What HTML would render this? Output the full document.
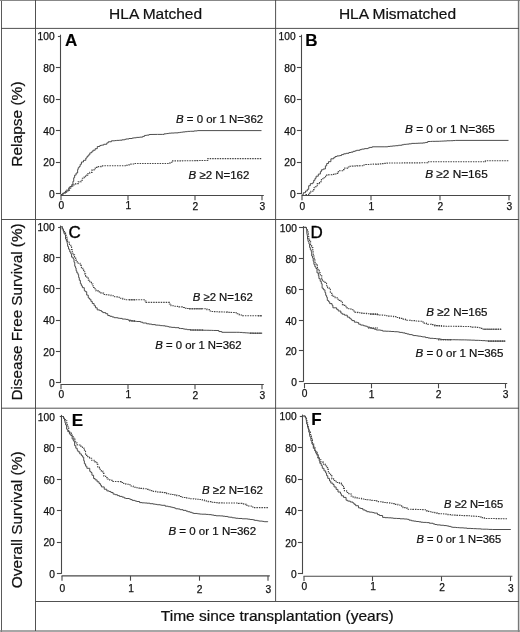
<!DOCTYPE html>
<html><head><meta charset="utf-8"><title>Figure</title>
<style>
html,body{margin:0;padding:0;background:#fff;}
body{width:520px;height:632px;overflow:hidden;}
svg{display:block;font-family:"Liberation Sans",sans-serif;filter:grayscale(1);}
</style></head><body>
<svg width="520" height="632" viewBox="0 0 520 632">
<rect x="0" y="0" width="520" height="632" fill="#fff"/>
<g stroke="#484848" stroke-width="0.95" fill="none">
<line x1="1.5" y1="0" x2="1.5" y2="632" stroke="#5a5a5a" stroke-width="1"/>
<line x1="0" y1="0.5" x2="520" y2="0.5" stroke="#888" stroke-width="1.1"/>
<line x1="518.6" y1="0" x2="518.6" y2="632" stroke="#777" stroke-width="1.5"/>
<line x1="0" y1="631" x2="520" y2="631" stroke="#888" stroke-width="1.6"/>
<line x1="35.5" y1="0" x2="35.5" y2="631"/>
<line x1="275.6" y1="0" x2="275.6" y2="601"/>
<line x1="1" y1="28.4" x2="519" y2="28.4"/>
<line x1="1" y1="219.5" x2="519" y2="219.5"/>
<line x1="1" y1="408.2" x2="519" y2="408.2"/>
<line x1="35.5" y1="601.5" x2="519" y2="601.5"/>
</g>
<g fill="#111" font-size="15.5" stroke="#111" stroke-width="0.22">
<text x="155.6" y="18.9" text-anchor="middle">HLA Matched</text>
<text x="397.5" y="18.9" text-anchor="middle">HLA Mismatched</text>
<text x="277.3" y="621.4" text-anchor="middle">Time since transplantation (years)</text>
<text transform="translate(21.7,124.1) rotate(-90)" text-anchor="middle">Relapse (%)</text>
<text transform="translate(21.7,312) rotate(-90)" text-anchor="middle" font-size="15.25">Disease Free Survival (%)</text>
<text transform="translate(21.7,519.8) rotate(-90)" text-anchor="middle">Overall Survival (%)</text>
</g>
<g stroke="#484848" stroke-width="1.1" fill="none">
<line x1="60.5" y1="34.7" x2="60.5" y2="194.0"/>
<line x1="60.5" y1="195.5" x2="263.8" y2="195.5"/>
<line x1="55.9" y1="193.50" x2="60.5" y2="193.50"/>
<line x1="55.9" y1="162.50" x2="60.5" y2="162.50"/>
<line x1="55.9" y1="130.50" x2="60.5" y2="130.50"/>
<line x1="55.9" y1="99.50" x2="60.5" y2="99.50"/>
<line x1="55.9" y1="67.50" x2="60.5" y2="67.50"/>
<line x1="57.9" y1="36.50" x2="60.5" y2="36.50"/>
<line x1="61.00" y1="195.5" x2="61.00" y2="200.3"/>
<line x1="128.00" y1="195.5" x2="128.00" y2="200.3"/>
<line x1="195.00" y1="195.5" x2="195.00" y2="200.3"/>
<line x1="262.00" y1="195.5" x2="262.00" y2="200.3"/>
</g>
<g fill="#111" font-size="10.2" stroke="#111" stroke-width="0.25">
<text x="54.6" y="197.70" text-anchor="end">0</text>
<text x="54.6" y="166.24" text-anchor="end">20</text>
<text x="54.6" y="134.78" text-anchor="end">40</text>
<text x="54.6" y="103.32" text-anchor="end">60</text>
<text x="54.6" y="71.86" text-anchor="end">80</text>
<text x="54.6" y="40.40" text-anchor="end">100</text>
<text x="61.30" y="209.00" text-anchor="middle">0</text>
<text x="128.30" y="209.47" text-anchor="middle">1</text>
<text x="195.30" y="209.93" text-anchor="middle">2</text>
<text x="262.30" y="210.40" text-anchor="middle">3</text>
</g>
<text x="65" y="45.8" font-size="17" font-weight="bold" fill="#000" stroke="#000" stroke-width="0.15">A</text>
<g stroke="#484848" stroke-width="1.1" fill="none">
<line x1="301.5" y1="34.7" x2="301.5" y2="194.3"/>
<line x1="301.5" y1="195.5" x2="510.8" y2="195.5"/>
<line x1="296.9" y1="193.50" x2="301.5" y2="193.50"/>
<line x1="296.9" y1="162.50" x2="301.5" y2="162.50"/>
<line x1="296.9" y1="130.50" x2="301.5" y2="130.50"/>
<line x1="296.9" y1="99.50" x2="301.5" y2="99.50"/>
<line x1="296.9" y1="67.50" x2="301.5" y2="67.50"/>
<line x1="299.1" y1="36.50" x2="301.5" y2="36.50"/>
<line x1="302.00" y1="195.5" x2="302.00" y2="200.3"/>
<line x1="371.00" y1="195.5" x2="371.00" y2="200.3"/>
<line x1="440.00" y1="195.5" x2="440.00" y2="200.3"/>
<line x1="509.00" y1="195.5" x2="509.00" y2="200.3"/>
</g>
<g fill="#111" font-size="10.2" stroke="#111" stroke-width="0.25">
<text x="295.6" y="198.00" text-anchor="end">0</text>
<text x="295.6" y="166.48" text-anchor="end">20</text>
<text x="295.6" y="134.96" text-anchor="end">40</text>
<text x="295.6" y="103.44" text-anchor="end">60</text>
<text x="295.6" y="71.92" text-anchor="end">80</text>
<text x="295.6" y="40.40" text-anchor="end">100</text>
<text x="302.30" y="209.50" text-anchor="middle">0</text>
<text x="371.30" y="209.80" text-anchor="middle">1</text>
<text x="440.30" y="210.10" text-anchor="middle">2</text>
<text x="509.30" y="210.40" text-anchor="middle">3</text>
</g>
<text x="305.2" y="45.8" font-size="17" font-weight="bold" fill="#000" stroke="#000" stroke-width="0.15">B</text>
<g stroke="#484848" stroke-width="1.1" fill="none">
<line x1="60.5" y1="225.6" x2="60.5" y2="383.1"/>
<line x1="60.5" y1="384.5" x2="263.8" y2="384.5"/>
<line x1="55.9" y1="382.50" x2="60.5" y2="382.50"/>
<line x1="55.9" y1="351.50" x2="60.5" y2="351.50"/>
<line x1="55.9" y1="320.50" x2="60.5" y2="320.50"/>
<line x1="55.9" y1="288.50" x2="60.5" y2="288.50"/>
<line x1="55.9" y1="257.50" x2="60.5" y2="257.50"/>
<line x1="58.1" y1="227.50" x2="60.5" y2="227.50"/>
<line x1="61.00" y1="384.5" x2="61.00" y2="389.3"/>
<line x1="128.00" y1="384.5" x2="128.00" y2="389.3"/>
<line x1="195.00" y1="384.5" x2="195.00" y2="389.3"/>
<line x1="262.00" y1="384.5" x2="262.00" y2="389.3"/>
</g>
<g fill="#111" font-size="10.2" stroke="#111" stroke-width="0.25">
<text x="54.6" y="386.80" text-anchor="end">0</text>
<text x="54.6" y="355.50" text-anchor="end">20</text>
<text x="54.6" y="324.20" text-anchor="end">40</text>
<text x="54.6" y="292.70" text-anchor="end">60</text>
<text x="54.6" y="261.70" text-anchor="end">80</text>
<text x="54.6" y="231.30" text-anchor="end">100</text>
<text x="61.30" y="397.80" text-anchor="middle">0</text>
<text x="128.30" y="398.27" text-anchor="middle">1</text>
<text x="195.30" y="398.73" text-anchor="middle">2</text>
<text x="262.30" y="399.20" text-anchor="middle">3</text>
</g>
<text x="68.5" y="237.8" font-size="17" font-weight="normal" fill="#000" stroke="#000" stroke-width="0.35">C</text>
<g stroke="#484848" stroke-width="1.1" fill="none">
<line x1="303.5" y1="226.1" x2="303.5" y2="381.7"/>
<line x1="303.9" y1="383.5" x2="507.2" y2="383.5"/>
<line x1="298.9" y1="381.50" x2="303.5" y2="381.50"/>
<line x1="298.9" y1="350.50" x2="303.5" y2="350.50"/>
<line x1="298.9" y1="320.50" x2="303.5" y2="320.50"/>
<line x1="298.9" y1="289.50" x2="303.5" y2="289.50"/>
<line x1="298.9" y1="258.50" x2="303.5" y2="258.50"/>
<line x1="299.0" y1="227.50" x2="303.5" y2="227.50"/>
<line x1="304.50" y1="383.5" x2="304.50" y2="388.3"/>
<line x1="371.50" y1="383.5" x2="371.50" y2="388.3"/>
<line x1="438.50" y1="383.5" x2="438.50" y2="388.3"/>
<line x1="505.50" y1="383.5" x2="505.50" y2="388.3"/>
</g>
<g fill="#111" font-size="10.2" stroke="#111" stroke-width="0.25">
<text x="296.8" y="385.60" text-anchor="end">0</text>
<text x="296.8" y="354.90" text-anchor="end">20</text>
<text x="296.8" y="324.50" text-anchor="end">40</text>
<text x="296.8" y="293.60" text-anchor="end">60</text>
<text x="296.8" y="262.90" text-anchor="end">80</text>
<text x="296.8" y="232.00" text-anchor="end">100</text>
<text x="304.70" y="397.40" text-anchor="middle">0</text>
<text x="371.70" y="397.53" text-anchor="middle">1</text>
<text x="438.70" y="397.67" text-anchor="middle">2</text>
<text x="505.70" y="397.80" text-anchor="middle">3</text>
</g>
<text x="310.5" y="237.6" font-size="17" font-weight="normal" fill="#000" stroke="#000" stroke-width="0.35">D</text>
<g stroke="#484848" stroke-width="1.1" fill="none">
<line x1="61.5" y1="414.9" x2="61.5" y2="573.8"/>
<line x1="61.5" y1="575.9" x2="269.8" y2="575.9"/>
<line x1="56.9" y1="573.50" x2="61.5" y2="573.50"/>
<line x1="56.9" y1="542.50" x2="61.5" y2="542.50"/>
<line x1="56.9" y1="510.50" x2="61.5" y2="510.50"/>
<line x1="56.9" y1="479.50" x2="61.5" y2="479.50"/>
<line x1="56.9" y1="447.50" x2="61.5" y2="447.50"/>
<line x1="59.7" y1="416.50" x2="61.5" y2="416.50"/>
<line x1="62.00" y1="575.9" x2="62.00" y2="580.6999999999999"/>
<line x1="130.50" y1="575.9" x2="130.50" y2="580.6999999999999"/>
<line x1="199.50" y1="575.9" x2="199.50" y2="580.6999999999999"/>
<line x1="268.00" y1="575.9" x2="268.00" y2="580.6999999999999"/>
</g>
<g fill="#111" font-size="10.2" stroke="#111" stroke-width="0.25">
<text x="54.8" y="577.60" text-anchor="end">0</text>
<text x="54.8" y="546.30" text-anchor="end">20</text>
<text x="54.8" y="515.00" text-anchor="end">40</text>
<text x="54.8" y="483.80" text-anchor="end">60</text>
<text x="54.8" y="451.90" text-anchor="end">80</text>
<text x="54.8" y="420.60" text-anchor="end">100</text>
<text x="62.30" y="592.00" text-anchor="middle">0</text>
<text x="130.97" y="592.33" text-anchor="middle">1</text>
<text x="199.63" y="592.67" text-anchor="middle">2</text>
<text x="268.30" y="593.00" text-anchor="middle">3</text>
</g>
<text x="71.8" y="425.7" font-size="17" font-weight="bold" fill="#000" stroke="#000" stroke-width="0.15">E</text>
<g stroke="#484848" stroke-width="1.1" fill="none">
<line x1="302.5" y1="414.6" x2="302.5" y2="574.1"/>
<line x1="303.5" y1="576.3" x2="512.4" y2="576.3"/>
<line x1="297.9" y1="573.50" x2="302.5" y2="573.50"/>
<line x1="297.9" y1="542.50" x2="302.5" y2="542.50"/>
<line x1="297.9" y1="510.50" x2="302.5" y2="510.50"/>
<line x1="297.9" y1="479.50" x2="302.5" y2="479.50"/>
<line x1="297.9" y1="447.50" x2="302.5" y2="447.50"/>
<line x1="299.8" y1="416.50" x2="302.5" y2="416.50"/>
<line x1="304.00" y1="576.3" x2="304.00" y2="581.0999999999999"/>
<line x1="372.50" y1="576.3" x2="372.50" y2="581.0999999999999"/>
<line x1="441.50" y1="576.3" x2="441.50" y2="581.0999999999999"/>
<line x1="510.50" y1="576.3" x2="510.50" y2="581.0999999999999"/>
</g>
<g fill="#111" font-size="10.2" stroke="#111" stroke-width="0.25">
<text x="296.6" y="577.90" text-anchor="end">0</text>
<text x="296.6" y="546.60" text-anchor="end">20</text>
<text x="296.6" y="514.70" text-anchor="end">40</text>
<text x="296.6" y="483.20" text-anchor="end">60</text>
<text x="296.6" y="451.60" text-anchor="end">80</text>
<text x="296.6" y="420.30" text-anchor="end">100</text>
<text x="304.30" y="589.70" text-anchor="middle">0</text>
<text x="373.17" y="590.47" text-anchor="middle">1</text>
<text x="442.03" y="591.23" text-anchor="middle">2</text>
<text x="510.90" y="592.00" text-anchor="middle">3</text>
</g>
<text x="311.3" y="425.4" font-size="17" font-weight="bold" fill="#000" stroke="#000" stroke-width="0.15">F</text>
<polyline points="60.7,194.6 62.82,194.6 62.82,193.04 64.5,193.04 64.5,192.4 66.79,192.4 66.79,190.94 68.7,190.94 68.7,187.8 69.81,187.8 69.81,186.64 71.73,186.64 71.73,184.57 72.9,184.57 72.9,181.4 73.71,181.4 73.71,177.72 74.64,177.72 74.64,175.1 76.1,175.1 76.1,173.0 77.63,173 77.63,169.52 78.2,169.52 78.2,167.7 79.21,167.7 79.21,166.48 80.18,166.48 80.18,164.3 81.44,164.3 81.44,161.98 83.5,161.98 83.5,160.3 85.8,160.3 85.8,158.05 87.03,158.05 87.03,156.37 88.25,156.37 88.25,154.94 89.8,154.94 89.8,152.9 91.48,152.9 91.48,151.86 92.9,151.86 92.9,150.22 95.18,150.22 95.18,148.68 97.3,148.68 97.3,146.5 99.86,146.5 99.86,145.46 101.5,145.46 101.5,145.1 103.74,145.1 103.74,144.28 106.8,144.28 106.8,142.9 108.25,142.9 108.25,141.75 111.4,141.75 111.4,140.8 114.69,140.8 114.69,140.59 116.64,140.59 116.64,140.38 119.5,140.38 119.5,140.2 122.05,140.2 122.05,139.8 124.8,139.8 124.8,139.3 126.14,139.3 126.14,138.96 129.0,138.96 129.0,138.5 132.27,138.5 132.27,137.99 134.21,137.99 134.21,137.81 136.4,137.81 136.4,137.4 139.67,137.4 139.67,137.14 142.7,137.14 142.7,136.4 144.48,136.4 144.48,135.45 146.59,135.45 146.59,135.12 149.1,135.12 149.1,134.5 157.5,134.4 162.3,134.4 164.09,134.4 164.09,133.84 166.45,133.84 166.45,133.55 168.7,133.55 168.7,133.2 170.87,133.2 170.87,133.04 174.37,133.04 174.37,132.87 178.05,132.87 178.05,132.64 179.69,132.64 179.69,132.37 181.4,132.37 181.4,132.2 182.74,132.2 182.74,131.95 185.17,131.95 185.17,131.68 187.47,131.68 187.47,131.39 190.3,131.39 190.3,131.28 194.15,131.28 194.15,130.92 197.3,130.92 197.3,130.6 261.5,130.6" fill="none" stroke="#444" stroke-width="0.95" stroke-linejoin="miter"/>
<polyline points="60.7,194.6 63.17,194.6 63.17,193.01 65.5,193.01 65.5,191.4 66.89,191.4 66.89,190.09 69.5,190.09 69.5,188.32 70.8,188.32 70.8,186.7 72.73,186.7 72.73,185.68 74.0,185.68 74.0,184.2 75.72,184.2 75.72,183.67 78.2,183.67 78.2,181.9 80.85,181.9 80.85,180.24 82.4,180.24 82.4,178.3 84.26,178.3 84.26,176.79 85.6,176.79 85.6,175.1 87.68,175.1 87.68,173.78 89.8,173.78 89.8,172.4 92.05,172.4 92.05,169.87 94.1,169.87 94.1,168.8 95.21,168.8 95.21,167.39 98.3,167.39 98.3,166.6 101.09,166.6 101.09,166.28 102.5,166.28 102.5,165.8 123.7,165.8 126.52,165.8 126.52,165.2 129.0,165.2 129.0,164.5 130.82,164.5 130.82,164.06 134.3,164.06 134.3,163.5 167.6,163.5 169.9,163.5 169.9,162.29 171.9,162.29 171.9,160.9 175.4,160.9 175.4,160.87 178.78,160.87 178.78,160.83 182.19,160.83 182.19,160.78 185.4,160.78 185.4,160.74 187.28,160.74 187.28,160.72 189.91,160.72 189.91,160.7 192.13,160.7 192.13,160.68 193.5,160.68 193.5,160.66 194.86,160.66 194.86,160.64 196.88,160.64 196.88,160.61 198.84,160.61 198.84,160.57 201.93,160.57 201.93,160.53 205.7,160.53 205.7,160.5 207.8,160.5 207.8,158.6 261.5,158.6" fill="none" stroke="#444" stroke-width="1.1" stroke-dasharray="1.5 1.0" stroke-linejoin="miter"/>
<polyline points="302.3,194.6 303.37,194.6 303.37,192.7 305.5,192.7 305.5,191.0 307.3,191 307.3,189.34 308.7,189.34 308.7,185.7 310.34,185.7 310.34,183.65 312.9,183.65 312.9,182.5 313.71,182.5 313.71,180.31 315.0,180.31 315.0,178.31 316.1,178.31 316.1,176.2 318.32,176.2 318.32,174.06 320.38,174.06 320.38,171.63 321.4,171.63 321.4,169.8 323.18,169.8 323.18,168.97 325.38,168.97 325.38,165.85 326.7,165.85 326.7,163.5 328.45,163.5 328.45,161.67 330.9,161.67 330.9,158.8 333.63,158.8 333.63,157.69 335.1,157.69 335.1,156.5 336.93,156.5 336.93,155.92 339.62,155.92 339.62,155.56 341.5,155.56 341.5,154.6 343.68,154.6 343.68,153.8 346.13,153.8 346.13,153.31 348.9,153.31 348.9,152.5 350.96,152.5 350.96,152.14 353.09,152.14 353.09,151.33 355.2,151.33 355.2,150.8 356.5,150.8 356.5,150.3 359.86,150.3 359.86,149.65 361.6,149.65 361.6,149.1 364.42,149.1 364.42,148.61 367.9,148.61 367.9,148.0 369.46,148 369.46,147.41 372.2,147.41 372.2,146.8 384.9,146.8 387.8,146.8 387.8,146.44 390.1,146.44 390.1,146.22 392.52,146.22 392.52,145.94 395.4,145.94 395.4,145.7 398.34,145.7 398.34,145.27 401.8,145.27 401.8,144.8 403.7,144.8 403.7,144.36 406.5,144.36 406.5,144.15 408.83,144.15 408.83,143.84 411.5,143.84 411.5,143.4 415.85,143.4 415.85,143.32 417.92,143.32 417.92,143.19 419.94,143.19 419.94,143.11 423.0,143.11 423.0,142.9 425.25,142.9 425.25,142.46 427.7,142.46 427.7,141.5 430.68,141.5 430.68,141.4 432.33,141.4 432.33,141.35 435.88,141.35 435.88,141.29 439.65,141.29 439.65,141.19 441.5,141.19 441.5,141.1 443.72,141.1 443.72,140.98 446.84,140.98 446.84,140.78 450.25,140.78 450.25,140.71 453.07,140.71 453.07,140.55 455.4,140.55 455.4,140.4 508.5,140.4" fill="none" stroke="#444" stroke-width="0.95" stroke-linejoin="miter"/>
<polyline points="305.5,194.6 308.7,194.6 308.7,193.1 310.91,193.1 310.91,191.23 312.89,191.23 312.89,189.65 314.0,189.65 314.0,187.8 315.41,187.8 315.41,186.75 317.2,186.75 317.2,183.6 319.51,183.6 319.51,181.75 321.4,181.75 321.4,178.7 324.07,178.7 324.07,177.7 325.6,177.7 325.6,175.1 328.58,175.1 328.58,174.78 331.91,174.78 331.91,174.53 333.55,174.53 333.55,174.4 335.1,174.4 335.1,174.0 336.59,174 336.59,173.35 338.3,173.35 338.3,171.5 339.56,171.5 339.56,170.69 342.58,170.69 342.58,169.62 344.7,169.62 344.7,168.1 347.56,168.1 347.56,166.96 349.9,166.96 349.9,166.2 352.22,166.2 352.22,166.11 354.74,166.11 354.74,166.03 356.83,166.03 356.83,165.88 359.5,165.88 359.5,165.8 363.25,165.8 363.25,164.94 365.8,164.94 365.8,164.5 368.04,164.5 368.04,164.43 369.58,164.43 369.58,164.32 373.26,164.32 373.26,164.16 376.4,164.16 376.4,164.1 379.45,164.1 379.45,163.9 381.61,163.9 381.61,163.66 383.91,163.66 383.91,163.37 387.0,163.37 387.0,163.0 425.4,162.8 427.7,162.8 427.7,161.8 481.9,161.8 485.4,161.8 485.4,160.7 508.5,160.7" fill="none" stroke="#444" stroke-width="1.1" stroke-dasharray="1.5 1.0" stroke-linejoin="miter"/>
<polyline points="61.3,226.8 62.38,226.8 62.38,228.99 63.4,228.99 63.4,231.6 63.87,231.6 63.87,233.36 64.88,233.36 64.88,234.84 65.5,234.84 65.5,239.0 66.37,239 66.37,241.14 67.11,241.14 67.11,243.46 67.6,243.46 67.6,246.4 68.49,246.4 68.49,249.15 69.77,249.15 69.77,251.93 70.8,251.93 70.8,253.8 71.59,253.8 71.59,257.17 73.14,257.17 73.14,258.81 74.0,258.81 74.0,262.3 74.76,262.3 74.76,266.32 75.55,266.32 75.55,267.94 76.1,267.94 76.1,270.8 76.84,270.8 76.84,272.83 77.97,272.83 77.97,274.63 78.65,274.63 78.65,277.56 79.3,277.56 79.3,280.3 80.37,280.3 80.37,283.76 81.36,283.76 81.36,285.82 82.4,285.82 82.4,287.7 84.3,287.7 84.3,290.57 85.13,290.57 85.13,291.67 86.7,291.67 86.7,295.1 88.26,295.1 88.26,298.02 89.52,298.02 89.52,299.22 90.9,299.22 90.9,301.4 92.27,301.4 92.27,303.53 94.1,303.53 94.1,305.7 95.46,305.7 95.46,307.79 97.2,307.79 97.2,309.9 99.69,309.9 99.69,310.58 101.5,310.58 101.5,311.6 102.81,311.6 102.81,312.61 105.7,312.61 105.7,313.7 107.75,313.7 107.75,315.54 109.9,315.54 109.9,316.3 112.09,316.3 112.09,316.99 114.2,316.99 114.2,317.7 117.76,317.7 117.76,318.15 119.5,318.15 119.5,318.4 122.2,318.4 122.2,319.06 125.8,319.06 125.8,319.4 128.22,319.4 128.22,320.2 131.1,320.2 131.1,320.9 133.5,320.9 133.5,321.22 136.4,321.22 136.4,321.5 140.59,321.5 140.59,322.18 142.7,322.18 142.7,323.0 146.59,323 146.59,323.79 149.1,323.79 149.1,324.1 151.76,324.1 151.76,324.6 155.4,324.6 155.4,325.1 158.29,325.1 158.29,325.24 160.24,325.24 160.24,325.63 162.75,325.63 162.75,325.79 165.12,325.79 165.12,326.2 167.5,326.2 167.5,326.6 168.9,326.6 168.9,327.04 171.48,327.04 171.48,327.38 175.04,327.38 175.04,327.68 179.0,327.68 179.0,328.4 180.68,328.4 180.68,328.56 183.23,328.56 183.23,328.95 184.75,328.95 184.75,329.23 187.17,329.23 187.17,329.65 190.6,329.65 190.6,330.0 192.82,330 192.82,330.04 197.06,330.04 197.06,330.1 200.05,330.1 200.05,330.12 201.64,330.12 201.64,330.18 203.17,330.18 203.17,330.24 206.18,330.24 206.18,330.27 209.06,330.27 209.06,330.34 211.5,330.34 211.5,330.4 213.44,330.4 213.44,330.47 216.0,330.47 216.0,330.5 218.87,330.5 218.87,331.56 221.8,331.56 221.8,332.3 236.8,332.3 239.54,332.3 239.54,332.43 242.5,332.43 242.5,332.68 244.98,332.68 244.98,332.8 246.72,332.8 246.72,332.92 248.64,332.92 248.64,333.09 252.9,333.09 252.9,333.2 262.2,333.2" fill="none" stroke="#444" stroke-width="0.95" stroke-linejoin="miter"/>
<polyline points="61.3,226.8 62.05,226.8 62.05,228.81 63.31,228.81 63.31,230.51 64.5,230.51 64.5,232.7 65.55,232.7 65.55,235.29 66.31,235.29 66.31,237.19 67.2,237.19 67.2,239.83 67.6,239.83 67.6,242.2 69.48,242.2 69.48,245.28 70.8,245.28 70.8,246.4 71.58,246.4 71.58,249.46 72.26,249.46 72.26,253.2 72.9,253.2 72.9,254.9 74.55,254.9 74.55,258.02 75.69,258.02 75.69,260.17 77.2,260.17 77.2,262.3 78.16,262.3 78.16,263.24 80.05,263.24 80.05,265.34 81.4,265.34 81.4,267.6 82.79,267.6 82.79,270.14 83.72,270.14 83.72,271.73 84.74,271.73 84.74,273.88 85.6,273.88 85.6,276.1 86.81,276.1 86.81,278.1 88.38,278.1 88.38,280.1 89.8,280.1 89.8,282.4 91.46,282.4 91.46,284.05 93.04,284.05 93.04,287.56 94.1,287.56 94.1,288.8 96.08,288.8 96.08,290.92 98.3,290.92 98.3,291.9 100.99,291.9 100.99,293.16 103.6,293.16 103.6,294.5 106.18,294.5 106.18,294.74 108.57,294.74 108.57,294.99 111.0,294.99 111.0,295.7 114.71,295.7 114.71,296.8 117.3,296.8 117.3,297.2 119.38,297.2 119.38,298.2 122.71,298.2 122.71,299.31 125.8,299.31 125.8,299.8 142.7,299.8 144.24,299.8 144.24,300.99 145.9,300.99 145.9,302.4 167.5,302.4 169.39,302.4 169.39,304.0 171.0,304.0 171.0,305.8 174.01,305.8 174.01,306.22 177.31,306.22 177.31,306.43 179.0,306.43 179.0,306.9 182.2,306.9 182.2,307.55 184.45,307.55 184.45,308.23 186.2,308.23 186.2,308.53 188.3,308.53 188.3,308.8 204.5,308.8 206.86,308.8 206.86,309.62 209.35,309.62 209.35,310.99 211.4,310.99 211.4,311.5 213.32,311.5 213.32,311.67 215.61,311.67 215.61,311.77 219.1,311.77 219.1,311.83 221.83,311.83 221.83,311.96 225.14,311.96 225.14,312.12 227.47,312.12 227.47,312.24 229.22,312.24 229.22,312.34 231.01,312.34 231.01,312.5 234.5,312.5 234.5,312.7 237.27,312.7 237.27,313.68 239.31,313.68 239.31,315.01 242.5,315.01 242.5,315.7 262.2,315.7" fill="none" stroke="#444" stroke-width="1.1" stroke-dasharray="1.5 1.0" stroke-linejoin="miter"/>
<line x1="129" y1="299.8" x2="136" y2="299.8" stroke="#444" stroke-width="1.6" stroke-dasharray="1.5 0.8" opacity="0.8"/>
<line x1="189" y1="308.8" x2="203" y2="308.8" stroke="#444" stroke-width="1.6" stroke-dasharray="1.5 0.8" opacity="0.8"/>
<line x1="258" y1="315.7" x2="262" y2="315.7" stroke="#444" stroke-width="1.6" stroke-dasharray="1.5 0.8" opacity="0.8"/>
<line x1="129" y1="320.9" x2="135" y2="320.9" stroke="#444" stroke-width="1.6" stroke-dasharray="1.5 0.8" opacity="0.8"/>
<line x1="190" y1="330" x2="204" y2="330" stroke="#444" stroke-width="1.6" stroke-dasharray="1.5 0.8" opacity="0.8"/>
<line x1="250" y1="333.2" x2="262" y2="333.2" stroke="#444" stroke-width="1.6" stroke-dasharray="1.5 0.8" opacity="0.8"/>
<polyline points="304.3,227.4 306.5,227.4 306.5,229.5 306.75,229.5 306.75,232.76 306.93,232.76 306.93,234.35 307.3,234.35 307.3,235.91 307.5,235.91 307.5,239.0 308.01,239 308.01,241.42 308.96,241.42 308.96,244.01 309.6,244.01 309.6,247.5 310.35,247.5 310.35,249.89 311.28,249.89 311.28,251.69 311.7,251.69 311.7,256.0 312.51,256 312.51,257.92 313.2,257.92 313.2,261.18 313.9,261.18 313.9,264.4 314.82,264.4 314.82,266.7 315.93,266.7 315.93,268.5 317.0,268.5 317.0,272.9 318.36,272.9 318.36,275.77 318.93,275.77 318.93,278.62 320.2,278.62 320.2,281.3 321.3,281.3 321.3,283.69 322.12,283.69 322.12,288.2 323.4,288.2 323.4,289.8 324.95,289.8 324.95,292.58 325.69,292.58 325.69,295.36 326.6,295.36 326.6,297.2 327.31,297.2 327.31,300.44 328.57,300.44 328.57,301.8 329.7,301.8 329.7,303.6 332.02,303.6 332.02,305.25 332.9,305.25 332.9,307.8 336.61,307.8 336.61,309.34 338.2,309.34 338.2,311.0 340.81,311 340.81,313.06 342.21,313.06 342.21,314.19 344.5,314.19 344.5,315.2 347.3,315.2 347.3,317.11 349.44,317.11 349.44,318.29 350.9,318.29 350.9,319.4 351.9,319.4 351.9,320.59 354.39,320.59 354.39,322.16 357.2,322.16 357.2,322.6 358.68,322.6 358.68,324.19 360.66,324.19 360.66,325.08 363.6,325.08 363.6,325.8 365.35,325.8 365.35,326.2 367.22,326.2 367.22,327.07 369.9,327.07 369.9,327.9 372.19,327.9 372.19,328.59 374.39,328.59 374.39,329.27 376.3,329.27 376.3,330.0 380.64,330 380.64,330.36 382.6,330.36 382.6,331.1 386.04,331.1 386.04,331.22 388.64,331.22 388.64,331.32 391.1,331.32 391.1,331.5 394.3,331.5 394.3,331.72 397.73,331.72 397.73,331.95 399.5,331.95 399.5,332.4 402.58,332.4 402.58,332.9 404.99,332.9 404.99,333.42 406.86,333.42 406.86,333.99 409.2,333.99 409.2,334.6 411.91,334.6 411.91,334.99 413.35,334.99 413.35,335.57 416.47,335.57 416.47,335.87 418.32,335.87 418.32,336.18 420.8,336.18 420.8,336.5 422.32,336.5 422.32,336.88 425.56,336.88 425.56,337.57 428.07,337.57 428.07,338.01 430.0,338.01 430.0,338.3 433.3,338.3 433.3,338.52 436.22,338.52 436.22,338.84 439.98,338.84 439.98,339.16 441.5,339.16 441.5,339.5 442.91,339.5 442.91,339.54 444.98,339.54 444.98,339.57 446.59,339.57 446.59,339.64 448.38,339.64 448.38,339.71 452.22,339.71 452.22,339.73 455.04,339.73 455.04,339.78 458.77,339.78 458.77,339.83 461.04,339.83 461.04,339.86 464.6,339.86 464.6,339.9 466.65,339.9 466.65,339.99 468.9,339.99 468.9,340.04 471.31,340.04 471.31,340.15 474.82,340.15 474.82,340.32 478.5,340.32 478.5,340.4 480.44,340.4 480.44,340.51 482.11,340.51 482.11,340.64 485.2,340.64 485.2,340.85 487.7,340.85 487.7,341.1 505.5,341.1" fill="none" stroke="#444" stroke-width="0.95" stroke-linejoin="miter"/>
<polyline points="304.3,227.4 306.41,227.4 306.41,228.77 307.5,228.77 307.5,231.6 307.98,231.6 307.98,233.68 308.4,233.68 308.4,236.57 308.83,236.57 308.83,238.79 309.6,238.79 309.6,241.2 310.59,241.2 310.59,244.71 311.67,244.71 311.67,246.49 312.3,246.49 312.3,247.61 312.8,247.61 312.8,251.7 313.23,251.7 313.23,255.04 313.84,255.04 313.84,257.12 314.26,257.12 314.26,258.58 314.9,258.58 314.9,262.3 316.05,262.3 316.05,265.13 317.47,265.13 317.47,268.5 318.07,268.5 318.07,270.42 319.2,270.42 319.2,272.9 320.26,272.9 320.26,275.69 321.74,275.69 321.74,278.87 322.37,278.87 322.37,280.17 323.4,280.17 323.4,281.3 324.95,281.3 324.95,282.35 326.54,282.35 326.54,285.75 327.6,285.75 327.6,287.7 329.13,287.7 329.13,289.38 330.35,289.38 330.35,293.2 331.8,293.2 331.8,295.1 333.14,295.1 333.14,296.3 335.13,296.3 335.13,297.59 337.1,297.59 337.1,299.3 339.24,299.3 339.24,300.37 341.09,300.37 341.09,302.33 342.4,302.33 342.4,304.6 343.61,304.6 343.61,305.38 345.99,305.38 345.99,307.85 348.8,307.85 348.8,308.8 350.91,308.8 350.91,309.8 352.93,309.8 352.93,310.97 355.1,310.97 355.1,312.4 357.94,312.4 357.94,312.75 361.5,312.75 361.5,313.1 363.13,313.1 363.13,313.41 366.62,313.41 366.62,313.73 369.71,313.73 369.71,313.95 372.0,313.95 372.0,314.1 375.29,314.1 375.29,314.29 377.34,314.29 377.34,314.65 379.46,314.65 379.46,315.03 382.6,315.03 382.6,315.2 385.87,315.2 385.87,315.72 387.55,315.72 387.55,316.12 391.1,316.12 391.1,316.3 393.63,316.3 393.63,316.63 395.84,316.63 395.84,317.47 399.5,317.47 399.5,318.4 402.31,318.4 402.31,319.13 405.32,319.13 405.32,319.59 406.9,319.59 406.9,320.3 410.32,320.3 410.32,320.43 411.93,320.43 411.93,320.67 415.04,320.67 415.04,321.03 418.5,321.03 418.5,321.2 421.61,321.2 421.61,321.98 423.34,321.98 423.34,323.14 426.27,323.14 426.27,323.65 427.7,323.65 427.7,324.2 431.45,324.2 431.45,324.67 434.5,324.67 434.5,325.05 436.5,325.05 436.5,325.5 439.04,325.5 439.04,325.69 441.5,325.69 441.5,326.1 442.97,326.1 442.97,326.14 445.43,326.14 445.43,326.18 448.15,326.18 448.15,326.23 450.2,326.23 450.2,326.26 453.48,326.26 453.48,326.32 456.0,326.32 456.0,326.36 458.58,326.36 458.58,326.39 461.89,326.39 461.89,326.44 463.33,326.44 463.33,326.48 466.9,326.48 466.9,326.5 470.63,326.5 470.63,326.78 472.28,326.78 472.28,327.15 476.24,327.15 476.24,327.42 478.5,327.42 478.5,327.7 481.34,327.7 481.34,328.39 483.1,328.39 483.1,329.3 501.5,329.3" fill="none" stroke="#444" stroke-width="1.1" stroke-dasharray="1.5 1.0" stroke-linejoin="miter"/>
<line x1="370" y1="314.1" x2="378" y2="314.1" stroke="#444" stroke-width="1.6" stroke-dasharray="1.5 0.8" opacity="0.8"/>
<line x1="434" y1="325.8" x2="442" y2="325.8" stroke="#444" stroke-width="1.6" stroke-dasharray="1.5 0.8" opacity="0.8"/>
<line x1="484" y1="329.3" x2="501" y2="329.3" stroke="#444" stroke-width="1.6" stroke-dasharray="1.5 0.8" opacity="0.8"/>
<line x1="368" y1="328" x2="378" y2="328" stroke="#444" stroke-width="1.6" stroke-dasharray="1.5 0.8" opacity="0.8"/>
<line x1="438" y1="339.7" x2="452" y2="339.7" stroke="#444" stroke-width="1.6" stroke-dasharray="1.5 0.8" opacity="0.8"/>
<line x1="488" y1="341.1" x2="505" y2="341.1" stroke="#444" stroke-width="1.6" stroke-dasharray="1.5 0.8" opacity="0.8"/>
<polyline points="62.3,416.5 63.5,416.5 63.5,418.21 64.5,418.21 64.5,420.7 65.03,420.7 65.03,422.89 65.64,422.89 65.64,424.96 66.6,424.96 66.6,429.2 67.76,429.2 67.76,431.63 69.41,431.63 69.41,434.08 70.8,434.08 70.8,435.5 72.12,435.5 72.12,438.93 73.26,438.93 73.26,440.49 74.0,440.49 74.0,441.8 74.61,441.8 74.61,445.67 75.79,445.67 75.79,448.23 77.2,448.23 77.2,450.3 77.99,450.3 77.99,451.79 79.76,451.79 79.76,453.91 81.4,453.91 81.4,455.6 82.65,455.6 82.65,457.17 83.73,457.17 83.73,460.76 84.38,460.76 84.38,463.83 85.6,463.83 85.6,466.2 86.86,466.2 86.86,468.31 89.74,468.31 89.74,471.36 90.9,471.36 90.9,472.5 91.94,472.5 91.94,475.24 93.6,475.24 93.6,478.47 95.1,478.47 95.1,479.9 97.09,479.9 97.09,481.81 99.05,481.81 99.05,483.56 100.4,483.56 100.4,485.2 101.45,485.2 101.45,486.91 104.23,486.91 104.23,489.22 106.8,489.22 106.8,490.9 109.02,490.9 109.02,491.46 110.86,491.46 110.86,492.47 113.1,492.47 113.1,494.1 115.14,494.1 115.14,494.71 117.43,494.71 117.43,495.62 119.5,495.62 119.5,496.4 122.14,496.4 122.14,497.13 124.23,497.13 124.23,498.09 125.8,498.09 125.8,498.5 129.13,498.5 129.13,498.87 130.37,498.87 130.37,499.57 132.2,499.57 132.2,500.4 134.87,500.4 134.87,500.99 136.64,500.99 136.64,501.5 139.6,501.5 139.6,502.6 142.0,502.6 142.0,502.84 144.53,502.84 144.53,502.99 147.0,502.99 147.0,503.2 149.88,503.2 149.88,503.69 153.15,503.69 153.15,504.1 155.4,504.1 155.4,504.4 157.22,504.4 157.22,504.74 160.1,504.74 160.1,504.99 161.58,504.99 161.58,505.31 165.2,505.31 165.2,506.2 168.27,506.2 168.27,506.68 170.61,506.68 170.61,507.13 172.53,507.13 172.53,507.6 174.5,507.6 174.5,508.1 175.76,508.1 175.76,508.79 178.19,508.79 178.19,509.01 180.12,509.01 180.12,509.68 183.06,509.68 183.06,510.38 186.0,510.38 186.0,511.1 187.83,511.1 187.83,511.74 189.97,511.74 189.97,512.27 191.81,512.27 191.81,512.92 193.43,512.92 193.43,513.45 197.5,513.45 197.5,513.8 199.6,513.8 199.6,514.07 201.68,514.07 201.68,514.2 206.08,514.2 206.08,514.41 208.54,514.41 208.54,514.63 211.4,514.63 211.4,515.0 213.8,515 213.8,515.44 216.07,515.44 216.07,515.79 220.12,515.79 220.12,515.92 222.9,515.92 222.9,516.2 224.95,516.2 224.95,516.46 227.74,516.46 227.74,517.02 229.59,517.02 229.59,517.22 232.23,517.22 232.23,517.76 234.5,517.76 234.5,518.0 236.06,518 236.06,518.24 238.23,518.24 238.23,518.48 242.15,518.48 242.15,518.81 246.74,518.81 246.74,518.96 248.3,518.96 248.3,519.2 250.08,519.2 250.08,519.53 252.87,519.53 252.87,519.82 254.47,519.82 254.47,520.36 257.5,520.36 257.5,520.8 259.25,520.8 259.25,521.1 262.52,521.1 262.52,521.42 264.2,521.42 264.2,521.7 267.9,521.7 267.9,521.9" fill="none" stroke="#444" stroke-width="0.95" stroke-linejoin="miter"/>
<polyline points="62.3,416.5 63.91,416.5 63.91,419.63 65.5,419.63 65.5,420.7 66.81,420.7 66.81,423.97 67.31,423.97 67.31,426.18 67.98,426.18 67.98,428.07 68.7,428.07 68.7,431.3 69.83,431.3 69.83,433.13 71.31,433.13 71.31,434.95 72.9,434.95 72.9,436.6 73.89,436.6 73.89,439.1 74.86,439.1 74.86,441.8 75.63,441.8 75.63,443.06 77.2,443.06 77.2,445.0 80.01,445 80.01,446.17 82.4,446.17 82.4,448.2 84.43,448.2 84.43,450.96 85.51,450.96 85.51,454.1 86.53,454.1 86.53,455.4 87.7,455.4 87.7,456.7 89.54,456.7 89.54,458.23 91.58,458.23 91.58,460.28 94.1,460.28 94.1,461.9 95.74,461.9 95.74,462.79 97.11,462.79 97.11,464.27 97.77,464.27 97.77,466.98 99.4,466.98 99.4,469.3 101.34,469.3 101.34,471.11 102.81,471.11 102.81,473.33 103.91,473.33 103.91,476.29 105.7,476.29 105.7,477.8 107.4,477.8 107.4,478.96 109.84,478.96 109.84,480.3 112.1,480.3 112.1,481.4 119.5,481.6 121.03,481.6 121.03,482.51 123.65,482.51 123.65,483.56 125.8,483.56 125.8,484.2 128.25,484.2 128.25,484.82 131.1,484.82 131.1,485.97 133.2,485.97 133.2,487.3 135.66,487.3 135.66,487.7 137.98,487.7 137.98,488.09 140.6,488.09 140.6,488.4 143.28,488.4 143.28,488.76 147.0,488.76 147.0,489.4 149.23,489.4 149.23,489.95 151.34,489.95 151.34,490.66 153.3,490.66 153.3,491.4 155.81,491.4 155.81,491.74 157.84,491.74 157.84,492.12 160.47,492.12 160.47,492.37 163.67,492.37 163.67,492.65 165.2,492.65 165.2,493.1 166.62,493.1 166.62,493.76 169.37,493.76 169.37,494.2 171.12,494.2 171.12,494.43 174.5,494.43 174.5,494.9 176.7,494.9 176.7,495.65 179.26,495.65 179.26,496.54 181.4,496.54 181.4,497.2 183.37,497.2 183.37,497.52 186.5,497.52 186.5,498.01 188.04,498.01 188.04,498.21 190.6,498.21 190.6,498.8 193.82,498.8 193.82,498.94 195.91,498.94 195.91,499.26 198.82,499.26 198.82,499.57 202.2,499.57 202.2,500.0 204.39,500 204.39,500.77 206.35,500.77 206.35,501.28 208.21,501.28 208.21,501.62 211.4,501.62 211.4,502.3 214.32,502.3 214.32,502.51 216.66,502.51 216.66,502.69 218.72,502.69 218.72,502.84 222.9,502.84 222.9,503.0 236.8,503 238.45,503 238.45,503.36 241.77,503.36 241.77,503.78 243.7,503.78 243.7,504.2 246.29,504.2 246.29,505.29 248.42,505.29 248.42,505.93 251.23,505.93 251.23,507.04 252.9,507.04 252.9,507.6 267.9,507.6" fill="none" stroke="#444" stroke-width="1.1" stroke-dasharray="1.5 1.0" stroke-linejoin="miter"/>
<polyline points="303.3,416 305.4,416 305.4,417.5 305.98,417.5 305.98,419.71 306.41,419.71 306.41,421.79 306.73,421.79 306.73,424.08 307.5,424.08 307.5,427.0 308.1,427 308.1,428.88 308.85,428.88 308.85,432.29 309.6,432.29 309.6,435.5 309.99,435.5 309.99,437.02 310.92,437.02 310.92,440.77 311.9,440.77 311.9,443.88 312.8,443.88 312.8,445.0 313.32,445 313.32,448.32 314.81,448.32 314.81,450.79 316.0,450.79 316.0,453.5 316.82,453.5 316.82,454.76 318.25,454.76 318.25,457.98 319.2,457.98 319.2,460.9 319.85,460.9 319.85,463.37 321.22,463.37 321.22,465.58 322.3,465.58 322.3,468.3 323.97,468.3 323.97,470.86 325.7,470.86 325.7,473.02 326.6,473.02 326.6,475.7 327.77,475.7 327.77,478.4 329.49,478.4 329.49,480.96 330.8,480.96 330.8,483.1 332.89,483.1 332.89,484.51 334.06,484.51 334.06,486.95 336.1,486.95 336.1,489.4 337.99,489.4 337.99,492.02 340.48,492.02 340.48,493.8 341.4,493.8 341.4,495.8 343.57,495.8 343.57,497.42 346.07,497.42 346.07,500.22 347.7,500.22 347.7,501.1 350.3,501.1 350.3,502.04 352.89,502.04 352.89,503.04 354.1,503.04 354.1,504.3 355.67,504.3 355.67,505.72 358.48,505.72 358.48,507.86 360.4,507.86 360.4,508.5 362.85,508.5 362.85,509.92 365.11,509.92 365.11,510.74 366.8,510.74 366.8,511.7 369.32,511.7 369.32,512.15 372.45,512.15 372.45,512.58 374.2,512.58 374.2,513.1 377.45,513.1 377.45,514.57 379.4,514.57 379.4,515.5 382.6,515.5 382.6,517.4 384.95,517.4 384.95,517.68 388.4,517.68 388.4,517.84 391.1,517.84 391.1,518.0 393.45,518 393.45,518.35 396.66,518.35 396.66,518.47 400.0,518.47 400.0,518.8 404.21,518.8 404.21,519.02 407.39,519.02 407.39,519.36 409.07,519.36 409.07,520.18 411.5,520.18 411.5,520.8 413.71,520.8 413.71,521.14 416.16,521.14 416.16,521.51 418.85,521.51 418.85,521.84 420.97,521.84 420.97,522.21 423.1,522.21 423.1,522.4 426.55,522.4 426.55,522.61 429.38,522.61 429.38,523.24 433.11,523.24 433.11,523.94 434.89,523.94 434.89,524.5 436.9,524.5 436.9,524.9 440.41,524.9 440.41,525.26 443.83,525.26 443.83,525.57 446.65,525.57 446.65,525.93 448.67,525.93 448.67,526.4 450.8,526.4 450.8,527.0 452.53,527 452.53,527.33 455.86,527.33 455.86,527.54 457.54,527.54 457.54,527.63 459.47,527.63 459.47,527.82 463.55,527.82 463.55,528.06 466.9,528.06 466.9,528.4 470.92,528.4 470.92,528.54 473.57,528.54 473.57,528.66 476.05,528.66 476.05,528.75 477.69,528.75 477.69,528.84 480.8,528.84 480.8,529.1 482.57,529.1 482.57,529.18 486.74,529.18 486.74,529.23 488.41,529.23 488.41,529.41 492.3,529.41 492.3,529.5 510.8,529.5" fill="none" stroke="#444" stroke-width="0.95" stroke-linejoin="miter"/>
<polyline points="303.3,416 305.35,416 305.35,417.21 306.5,417.21 306.5,420.7 307.08,420.7 307.08,422.95 307.73,422.95 307.73,425.39 308.32,425.39 308.32,427.24 308.6,427.24 308.6,430.2 309.21,430.2 309.21,431.34 310.4,431.34 310.4,434.57 311.39,434.57 311.39,438.35 311.8,438.35 311.8,439.7 312.42,439.7 312.42,442.78 313.36,442.78 313.36,444.26 313.86,444.26 313.86,446.89 314.9,446.89 314.9,450.3 315.89,450.3 315.89,452.25 317.14,452.25 317.14,454.99 317.83,454.99 317.83,457.69 319.2,457.69 319.2,459.8 320.91,459.8 320.91,462.09 323.4,462.09 323.4,464.1 325.25,464.1 325.25,466.04 326.63,466.04 326.63,467.58 327.6,467.58 327.6,469.3 328.34,469.3 328.34,471.82 329.31,471.82 329.31,473.55 330.62,473.55 330.62,475.61 331.8,475.61 331.8,478.9 333.63,478.9 333.63,480.46 336.1,480.46 336.1,482.5 339.41,482.5 339.41,483.11 341.4,483.11 341.4,484.2 342.36,484.2 342.36,486.24 343.5,486.24 343.5,488.4 344.4,488.4 344.4,490.75 346.62,490.75 346.62,492.51 348.8,492.51 348.8,493.7 351.02,493.7 351.02,495.93 353.16,495.93 353.16,497.15 355.1,497.15 355.1,497.9 357.97,497.9 357.97,498.26 361.5,498.26 361.5,499.0 365.17,499 365.17,499.43 367.06,499.43 367.06,499.77 369.9,499.77 369.9,500.0 371.85,500 371.85,500.57 375.07,500.57 375.07,500.88 378.4,500.88 378.4,501.7 381.86,501.7 381.86,502.11 383.86,502.11 383.86,502.52 386.8,502.52 386.8,502.8 389.83,502.8 389.83,503.2 393.2,503.2 393.2,503.6 394.89,503.6 394.89,504.4 397.86,504.4 397.86,505.05 400.0,505.05 400.0,505.8 401.66,505.8 401.66,506.94 403.06,506.94 403.06,507.65 406.9,507.65 406.9,509.2 410.74,509.2 410.74,509.24 412.7,509.24 412.7,509.36 415.98,509.36 415.98,509.48 418.5,509.48 418.5,509.56 421.55,509.56 421.55,509.64 423.1,509.64 423.1,509.7 425.46,509.7 425.46,510.88 427.17,510.88 427.17,511.41 429.83,511.41 429.83,511.75 432.17,511.75 432.17,512.23 434.6,512.23 434.6,512.7 436.1,512.7 436.1,513.15 437.51,513.15 437.51,513.58 440.22,513.58 440.22,513.72 443.74,513.72 443.74,514.04 446.2,514.04 446.2,514.3 447.9,514.3 447.9,514.66 451.89,514.66 451.89,514.94 453.96,514.94 453.96,515.14 456.88,515.14 456.88,515.36 460.0,515.36 460.0,515.5 464.07,515.5 464.07,515.6 468.21,515.6 468.21,515.79 470.21,515.79 470.21,515.97 471.7,515.97 471.7,516.14 473.8,516.14 473.8,516.2 476.43,516.2 476.43,516.45 478.89,516.45 478.89,517.0 481.23,517.0 481.23,517.66 484.27,517.66 484.27,518.18 485.4,518.18 485.4,518.5 488.91,518.5 488.91,518.54 492.96,518.54 492.96,518.57 494.9,518.57 494.9,518.65 497.55,518.65 497.55,518.67 499.99,518.67 499.99,518.75 501.99,518.75 501.99,518.78 505.15,518.78 505.15,518.81 507.3,518.81 507.3,518.9" fill="none" stroke="#444" stroke-width="1.1" stroke-dasharray="1.5 1.0" stroke-linejoin="miter"/>
<g fill="#111" font-size="11.5" stroke="#111" stroke-width="0.22">
<text x="176.0" y="122.8" font-size="11.45"><tspan font-style="italic">B</tspan> = 0 or 1 N=362</text>
<text x="188.6" y="178.6" font-size="11.45"><tspan font-style="italic">B</tspan> ≥2 N=162</text>
<text x="405.0" y="133.4" font-size="11.8"><tspan font-style="italic">B</tspan> = 0 or 1 N=365</text>
<text x="425.2" y="178.4" font-size="11.8"><tspan font-style="italic">B</tspan> ≥2 N=165</text>
<text x="192.7" y="301.2" font-size="11.35"><tspan font-style="italic">B</tspan> ≥2 N=162</text>
<text x="155.2" y="348.5" font-size="11.35"><tspan font-style="italic">B</tspan> = 0 or 1 N=362</text>
<text x="426.3" y="316.2" font-size="11.55"><tspan font-style="italic">B</tspan> ≥2 N=165</text>
<text x="415.5" y="356.5" font-size="11.55"><tspan font-style="italic">B</tspan> = 0 or 1 N=365</text>
<text x="202.0" y="494.2" font-size="11.5"><tspan font-style="italic">B</tspan> ≥2 N=162</text>
<text x="168.5" y="535.3" font-size="11.5"><tspan font-style="italic">B</tspan> = 0 or 1 N=362</text>
<text x="444.1" y="507.6" font-size="11.15"><tspan font-style="italic">B</tspan> ≥2 N=165</text>
<text x="416.4" y="543.4" font-size="11.15"><tspan font-style="italic">B</tspan> = 0 or 1 N=365</text>
</g>
</svg>
</body></html>
